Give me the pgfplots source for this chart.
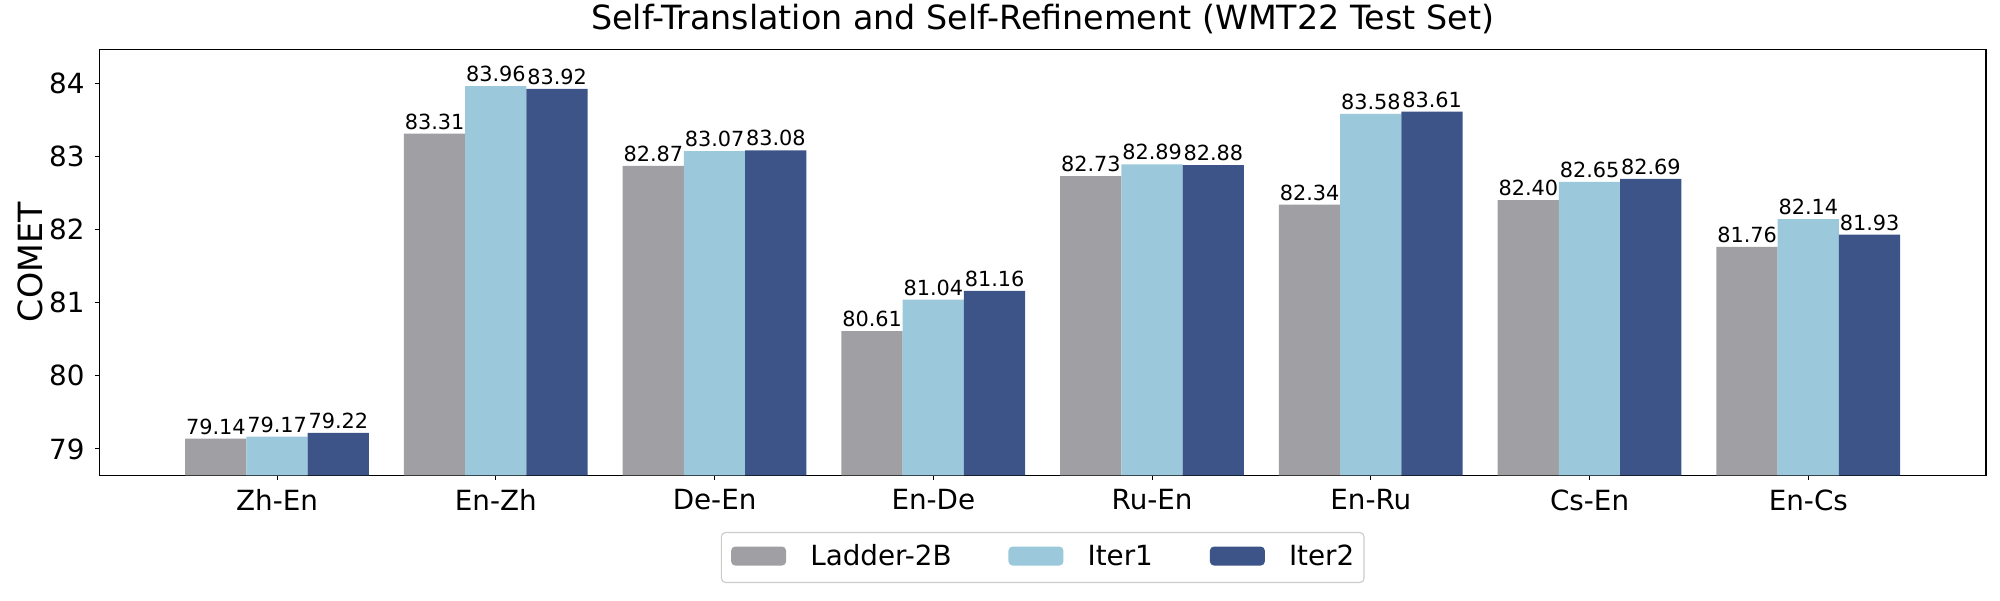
\documentclass[border=0pt]{standalone}
\usepackage{fontspec}
\setmainfont{DejaVu Sans}
\usepackage{pgfplots}
\pgfplotsset{compat=1.18}
\definecolor{cgray}{HTML}{A09FA4}
\definecolor{clight}{HTML}{9BC9DB}
\definecolor{cdark}{HTML}{3C5488}
\begin{document}
\begin{tikzpicture}
\useasboundingbox (-71.6pt,-89.8pt) rectangle (1368.4pt,342.2pt);
\begin{axis}[
  at={(0pt,0pt)}, anchor=south west,
  scale only axis, width=1358.3pt, height=306.6pt,
  xmin=-0.812, xmax=7.812, ymin=78.64, ymax=84.46,
  ybar, bar width=0.28,
  xtick={0,...,7},
  xticklabels={Zh-En,En-Zh,De-En,En-De,Ru-En,En-Ru,Cs-En,En-Cs},
  ytick={79,80,81,82,83,84},
  tick pos=left, tick align=outside, major tick length=3.5pt,
  every tick/.style={black, line width=0.8pt},
  axis line style={line width=0.8pt},
  /pgf/number format/assume math mode=true,
  ticklabel style={font=\fontsize{20}{24}\selectfont},
  xticklabel style={inner sep=0pt, anchor=north, yshift=-6.5pt},
  yticklabel style={inner sep=0pt, anchor=east, xshift=-7pt},
  title={Self-Translation and Self-Refinement (WMT22 Test Set)},
  title style={font=\fontsize{24}{29}\selectfont, at={(0.5,1)}, anchor=base, yshift=8pt, inner sep=0pt},
  ylabel={COMET},
  every axis y label/.style={at={(rel axis cs:0,0.5)}, xshift=-50pt, rotate=90, anchor=center, inner sep=0pt, font=\fontsize{24}{29}\selectfont},
  nodes near coords={\pgfmathprintnumber[fixed,fixed zerofill,precision=2]{\pgfplotspointmeta}},
  every node near coord/.append style={font=\fontsize{15}{18}\selectfont, anchor=base, inner sep=0pt, yshift=3.2pt, text=black},
  legend style={at={(0.5,0)}, anchor=north, yshift=-40.8pt, legend columns=3,
    draw=black!20, rounded corners=3pt, line width=0.8pt,
    inner xsep=7pt, inner ysep=0pt, font=\fontsize{20}{24}\selectfont,
    nodes={inner sep=0pt, text height=0pt, text depth=0pt}, cells={anchor=base west}, /tikz/column sep=0pt},
  legend image code/.code={\fill[#1] (0pt,0pt) rectangle (39.6pt,13.7pt); \path[fill=none, draw=none] (0pt,-12.2pt) rectangle (57pt,23.8pt);},
]
\addplot[fill=cgray, draw=none, bar shift=-0.28] coordinates {(0,79.14) (1,83.31) (2,82.87) (3,80.61) (4,82.73) (5,82.34) (6,82.40) (7,81.76)};
\addlegendentry{Ladder-2B\hspace*{41pt}}
\addplot[fill=clight, draw=none, bar shift=0] coordinates {(0,79.17) (1,83.96) (2,83.07) (3,81.04) (4,82.89) (5,83.58) (6,82.65) (7,82.14)};
\addlegendentry{Iter1\hspace*{41pt}}
\addplot[fill=cdark, draw=none, bar shift=0.28] coordinates {(0,79.22) (1,83.92) (2,83.08) (3,81.16) (4,82.88) (5,83.61) (6,82.69) (7,81.93)};
\addlegendentry{Iter2}
\end{axis}
\end{tikzpicture}
\end{document}
